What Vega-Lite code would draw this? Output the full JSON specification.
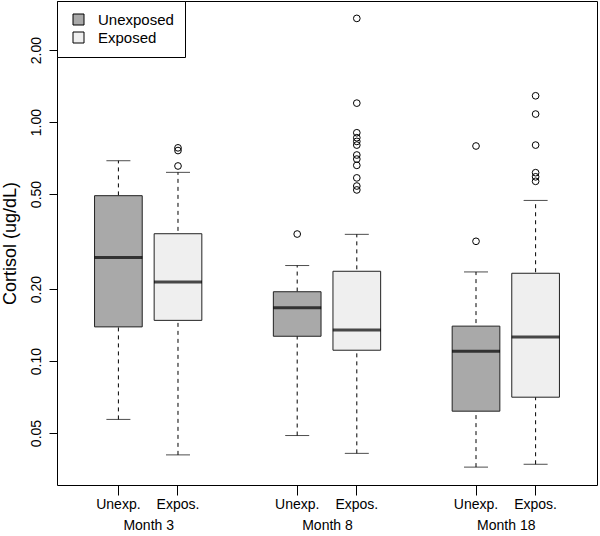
{
  "$schema": "https://vega.github.io/schema/vega-lite/v6.json",
  "width": 540,
  "height": 484,
  "autosize": {"type": "none"},
  "padding": {"left": 57, "top": 1, "right": 3, "bottom": 51},
  "background": "white",
  "config": {
    "font": "Liberation Sans",
    "view": {"stroke": "black", "strokeWidth": 1},
    "axis": {"grid": false, "labelColor": "black", "tickColor": "black", "titleColor": "black", "labelFont": "Liberation Sans", "titleFont": "Liberation Sans"}
  },
  "datasets": {
    "stats": [
      {"box": "U3", "month": "Month 3", "group": "Unexposed", "lo": 0.057, "q1": 0.139, "med": 0.271, "q3": 0.492, "hi": 0.689},
      {"box": "E3", "month": "Month 3", "group": "Exposed", "lo": 0.0405, "q1": 0.148, "med": 0.214, "q3": 0.341, "hi": 0.616},
      {"box": "U8", "month": "Month 8", "group": "Unexposed", "lo": 0.0488, "q1": 0.127, "med": 0.167, "q3": 0.195, "hi": 0.251},
      {"box": "E8", "month": "Month 8", "group": "Exposed", "lo": 0.0411, "q1": 0.111, "med": 0.135, "q3": 0.2375, "hi": 0.339},
      {"box": "U18", "month": "Month 18", "group": "Unexposed", "lo": 0.036, "q1": 0.0617, "med": 0.11, "q3": 0.14, "hi": 0.236},
      {"box": "E18", "month": "Month 18", "group": "Exposed", "lo": 0.037, "q1": 0.0706, "med": 0.126, "q3": 0.233, "hi": 0.47}
    ],
    "out": [
      {"box": "E3", "value": 0.655},
      {"box": "E3", "value": 0.76},
      {"box": "E3", "value": 0.78},
      {"box": "U8", "value": 0.34},
      {"box": "E8", "value": 2.715},
      {"box": "E8", "value": 1.2},
      {"box": "E8", "value": 0.902},
      {"box": "E8", "value": 0.86},
      {"box": "E8", "value": 0.83},
      {"box": "E8", "value": 0.801},
      {"box": "E8", "value": 0.728},
      {"box": "E8", "value": 0.7},
      {"box": "E8", "value": 0.659},
      {"box": "E8", "value": 0.584},
      {"box": "E8", "value": 0.54},
      {"box": "E8", "value": 0.52},
      {"box": "U18", "value": 0.794},
      {"box": "U18", "value": 0.317},
      {"box": "E18", "value": 1.288},
      {"box": "E18", "value": 1.08},
      {"box": "E18", "value": 0.801},
      {"box": "E18", "value": 0.614},
      {"box": "E18", "value": 0.59},
      {"box": "E18", "value": 0.565}
    ]
  },
  "layer": [
    {
      "encoding": {
        "x": {
          "field": "box", "type": "nominal",
          "scale": {"type": "band", "domain": ["U3", "E3", "s1", "U8", "E8", "s2", "U18", "E18"], "paddingInner": 0.2, "paddingOuter": 0.63, "align": 0.5},
          "axis": {"orient": "bottom", "values": ["U3", "E3", "U8", "E8", "U18", "E18"], "labelExpr": "indexof(datum.value, 'U') == 0 ? 'Unexp.' : 'Expos.'", "labelAngle": 0, "labelFontSize": 14, "tickSize": 10, "labelPadding": 2, "domain": false, "title": null}
        }
      },
      "layer": [
        {
          "data": {"name": "stats"},
          "mark": {"type": "rule", "color": "black", "strokeWidth": 1, "strokeDash": [4, 4]},
          "encoding": {
            "y": {"field": "lo", "type": "quantitative", "title": "Cortisol (ug/dL)",
              "scale": {"type": "log", "domain": [0.0303, 3.21], "nice": false, "zero": false},
              "axis": {"values": [0.05, 0.1, 0.2, 0.5, 1, 2], "format": ".2f", "labelAngle": -90, "labelAlign": "center", "labelBaseline": "bottom", "labelFontSize": 14, "tickSize": 8, "labelPadding": 6, "domain": false, "titleFontSize": 18, "titleFontWeight": "normal", "titlePadding": 10}},
            "y2": {"field": "hi"}
          }
        },
        {
          "data": {"name": "stats"},
          "mark": {"type": "tick", "color": "black", "size": 24, "thickness": 1},
          "encoding": {"y": {"field": "lo", "type": "quantitative", "title": "Cortisol (ug/dL)", "scale": {"type": "log", "domain": [0.0303, 3.21], "nice": false, "zero": false}}}
        },
        {
          "data": {"name": "stats"},
          "mark": {"type": "tick", "color": "black", "size": 24, "thickness": 1},
          "encoding": {"y": {"field": "hi", "type": "quantitative", "title": "Cortisol (ug/dL)", "scale": {"type": "log", "domain": [0.0303, 3.21], "nice": false, "zero": false}}}
        },
        {
          "data": {"name": "stats"},
          "mark": {"type": "bar", "stroke": "#222222", "strokeWidth": 1},
          "encoding": {
            "y": {"field": "q1", "type": "quantitative", "title": "Cortisol (ug/dL)", "scale": {"type": "log", "domain": [0.0303, 3.21], "nice": false, "zero": false}},
            "y2": {"field": "q3"},
            "fill": {"field": "group", "type": "nominal",
              "scale": {"domain": ["Unexposed", "Exposed"], "range": ["#a9a9a9", "#efefef"]},
              "legend": {"title": null, "orient": "none", "legendX": 0, "legendY": 0, "symbolType": "square", "symbolSize": 121, "symbolStrokeColor": "black", "symbolStrokeWidth": 1, "labelFontSize": 15, "labelColor": "black", "strokeColor": "black", "fillColor": "white", "padding": 11, "rowPadding": 2, "labelOffset": 12, "symbolOffset": 3, "cornerRadius": 0}}
          }
        },
        {
          "data": {"name": "stats"},
          "mark": {"type": "tick", "color": "black", "size": 48, "thickness": 3},
          "encoding": {"y": {"field": "med", "type": "quantitative", "title": "Cortisol (ug/dL)", "scale": {"type": "log", "domain": [0.0303, 3.21], "nice": false, "zero": false}}}
        },
        {
          "data": {"name": "out"},
          "mark": {"type": "point", "shape": "circle", "filled": false, "color": "black", "size": 45, "strokeWidth": 1, "opacity": 1},
          "encoding": {"y": {"field": "value", "type": "quantitative", "title": "Cortisol (ug/dL)", "scale": {"type": "log", "domain": [0.0303, 3.21], "nice": false, "zero": false}}}
        }
      ]
    },
    {
      "data": {"name": "stats"},
      "mark": {"type": "point", "opacity": 0},
      "encoding": {
        "x": {"field": "month", "type": "nominal",
          "scale": {"type": "point", "domain": ["Month 3", "Month 8", "Month 18"], "padding": 0.51},
          "axis": {"orient": "bottom", "ticks": false, "domain": false, "labelPadding": 33, "labelFontSize": 14, "labelAngle": 0, "title": null}},
        "y": {"field": "med", "type": "quantitative", "title": "Cortisol (ug/dL)", "scale": {"type": "log", "domain": [0.0303, 3.21], "nice": false, "zero": false}}
      }
    }
  ],
  "resolve": {"scale": {"x": "independent"}, "axis": {"x": "independent"}}
}
